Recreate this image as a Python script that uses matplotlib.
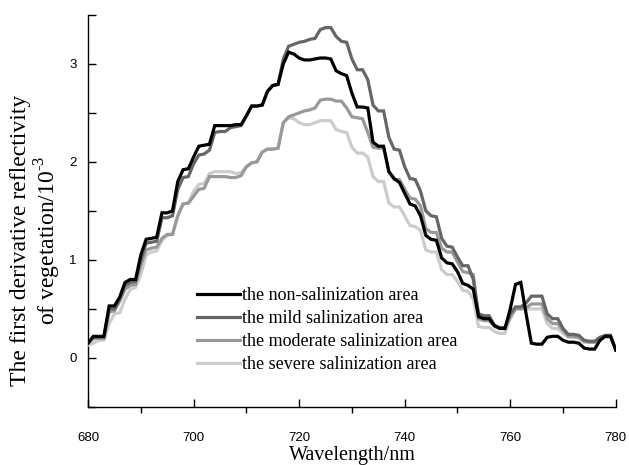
import matplotlib
matplotlib.use("Agg")
import matplotlib.pyplot as plt
import numpy as np
from matplotlib.ticker import MultipleLocator

# wavelength sampled every 1 nm
wavelength = np.arange(680, 781)

non_salinization = [
    0.15, 0.22, 0.22, 0.22, 0.53, 0.53, 0.62, 0.77, 0.80, 0.80,
    1.05, 1.21, 1.22, 1.23, 1.48, 1.48, 1.50, 1.80, 1.92, 1.93,
    2.05, 2.16, 2.17, 2.18, 2.37, 2.37, 2.37, 2.37, 2.38, 2.38,
    2.47, 2.57, 2.57, 2.58, 2.72, 2.78, 2.79, 3.00, 3.12, 3.10,
    3.06, 3.04, 3.04, 3.05, 3.06, 3.06, 3.05, 2.93, 2.90, 2.88,
    2.70, 2.56, 2.56, 2.55, 2.20, 2.16, 2.16, 1.90, 1.83, 1.79,
    1.68, 1.57, 1.55, 1.45, 1.25, 1.21, 1.20, 1.02, 0.97, 0.96,
    0.88, 0.76, 0.74, 0.70, 0.42, 0.40, 0.40, 0.33, 0.30, 0.30,
    0.50, 0.75, 0.77, 0.45, 0.15, 0.14, 0.14, 0.21, 0.22, 0.22,
    0.18, 0.16, 0.16, 0.15, 0.10, 0.09, 0.09, 0.18, 0.22, 0.22,
    0.08,
]
mild = [
    0.15, 0.21, 0.21, 0.21, 0.50, 0.50, 0.60, 0.74, 0.77, 0.78,
    1.00, 1.17, 1.18, 1.19, 1.43, 1.43, 1.45, 1.72, 1.84, 1.85,
    1.98, 2.07, 2.08, 2.12, 2.30, 2.31, 2.31, 2.35, 2.36, 2.37,
    2.47, 2.57, 2.57, 2.58, 2.72, 2.78, 2.79, 3.05, 3.18, 3.20,
    3.22, 3.23, 3.25, 3.26, 3.35, 3.37, 3.37, 3.28, 3.23, 3.22,
    3.05, 2.94, 2.94, 2.84, 2.58, 2.52, 2.52, 2.25, 2.13, 2.12,
    1.95, 1.83, 1.82, 1.70, 1.50, 1.45, 1.44, 1.22, 1.14, 1.13,
    1.03, 0.94, 0.94, 0.80, 0.45, 0.43, 0.43, 0.33, 0.31, 0.31,
    0.45, 0.52, 0.52, 0.56, 0.63, 0.63, 0.63, 0.45, 0.40, 0.40,
    0.30, 0.24, 0.24, 0.23, 0.18, 0.17, 0.17, 0.21, 0.23, 0.23,
    0.08,
]
moderate = [
    0.15, 0.20, 0.20, 0.20, 0.47, 0.48, 0.58, 0.70, 0.74, 0.75,
    0.95, 1.10, 1.12, 1.13, 1.22, 1.26, 1.26, 1.45, 1.57, 1.58,
    1.65, 1.72, 1.73, 1.85, 1.85, 1.85, 1.85, 1.84, 1.84, 1.86,
    1.95, 1.99, 2.00, 2.10, 2.13, 2.13, 2.14, 2.40, 2.46, 2.48,
    2.50, 2.52, 2.53, 2.55, 2.63, 2.64, 2.64, 2.62, 2.62, 2.55,
    2.46, 2.45, 2.44, 2.30, 2.15, 2.14, 2.14, 1.90, 1.82, 1.82,
    1.72, 1.63, 1.62, 1.55, 1.32, 1.28, 1.28, 1.12, 1.08, 1.08,
    0.98, 0.88, 0.87, 0.85, 0.40, 0.38, 0.38, 0.32, 0.30, 0.30,
    0.42, 0.50, 0.50, 0.51, 0.55, 0.55, 0.55, 0.40, 0.35, 0.35,
    0.28, 0.22, 0.22, 0.21, 0.17, 0.16, 0.16, 0.20, 0.22, 0.22,
    0.08,
]
severe = [
    0.13, 0.15, 0.18, 0.18, 0.35, 0.45, 0.46, 0.60, 0.70, 0.72,
    0.85, 1.05, 1.08, 1.09, 1.20, 1.25, 1.26, 1.45, 1.57, 1.58,
    1.70, 1.77, 1.78, 1.88, 1.90, 1.90, 1.90, 1.90, 1.88, 1.89,
    1.95, 1.99, 2.00, 2.10, 2.13, 2.13, 2.14, 2.40, 2.45, 2.44,
    2.40, 2.38, 2.38, 2.40, 2.42, 2.42, 2.42, 2.33, 2.31, 2.30,
    2.15, 2.09, 2.09, 2.05, 1.85, 1.80, 1.80, 1.58, 1.54, 1.54,
    1.45, 1.35, 1.34, 1.30, 1.10, 1.08, 1.08, 0.90, 0.85, 0.85,
    0.78, 0.69, 0.68, 0.60, 0.32, 0.31, 0.31, 0.27, 0.25, 0.25,
    0.40, 0.50, 0.50, 0.50, 0.50, 0.50, 0.50, 0.35, 0.30, 0.30,
    0.25, 0.21, 0.21, 0.20, 0.16, 0.16, 0.16, 0.19, 0.21, 0.21,
    0.08,
]

labels = ['the non-salinization area', 'the mild salinization area',
          'the moderate salinization area', 'the severe salinization area']
colors = ['#000000', '#666666', '#999999', '#cccccc']
series = [non_salinization, mild, moderate, severe]

serif = ['Liberation Serif', 'DejaVu Serif']
plt.rcParams['mathtext.fontset'] = 'custom'
plt.rcParams['mathtext.rm'] = 'Liberation Serif'

fig = plt.figure(figsize=(6.29, 4.65), dpi=100)
ax = fig.add_axes([0.140, 0.125, 0.839, 0.843])

lines = []
for i in range(len(series) - 1, -1, -1):
    ln, = ax.plot(wavelength, series[i], color=colors[i], lw=2.3,
                  solid_joinstyle='miter', zorder=2 + (4 - i))
    lines.insert(0, ln)

ax.set_xlim(680, 780)
ax.set_ylim(-0.5, 3.5)
ax.xaxis.set_major_locator(MultipleLocator(20))
ax.xaxis.set_minor_locator(MultipleLocator(10))
ax.yaxis.set_major_locator(MultipleLocator(1))
ax.yaxis.set_minor_locator(MultipleLocator(0.5))

ax.spines['top'].set_visible(False)
ax.spines['right'].set_visible(False)
for s in ['left', 'bottom']:
    ax.spines[s].set_linewidth(1.0)

ax.tick_params(axis='x', which='major', direction='in', length=6, width=1,
               pad=18, labelsize=9.5)
ax.tick_params(axis='x', which='minor', direction='out', length=4, width=1)
ax.tick_params(axis='y', which='both', direction='in', length=6, width=1,
               pad=8, labelsize=9.5)
for lab in ax.get_xticklabels() + ax.get_yticklabels():
    lab.set_family(['Liberation Sans', 'DejaVu Sans'])

ax.set_xlabel('Wavelength/nm', family=serif, fontsize=14.5)
ax.xaxis.set_label_coords(0.5, -0.10)
ax.set_ylabel('The first derivative reflectivity\nof vegetation/10$^{\\text{-3}}$',
              family=serif, fontsize=17, linespacing=1.1)
ax.yaxis.set_label_coords(-0.047, 0.425)

leg = ax.legend(lines, labels, loc='upper left',
                bbox_to_anchor=(0.206, 0.305), frameon=False,
                prop={'family': serif, 'size': 13},
                handlelength=2.4, handletextpad=0.1, labelspacing=0.33,
                borderpad=0, borderaxespad=0)

fig.savefig('out.png', dpi=100)
